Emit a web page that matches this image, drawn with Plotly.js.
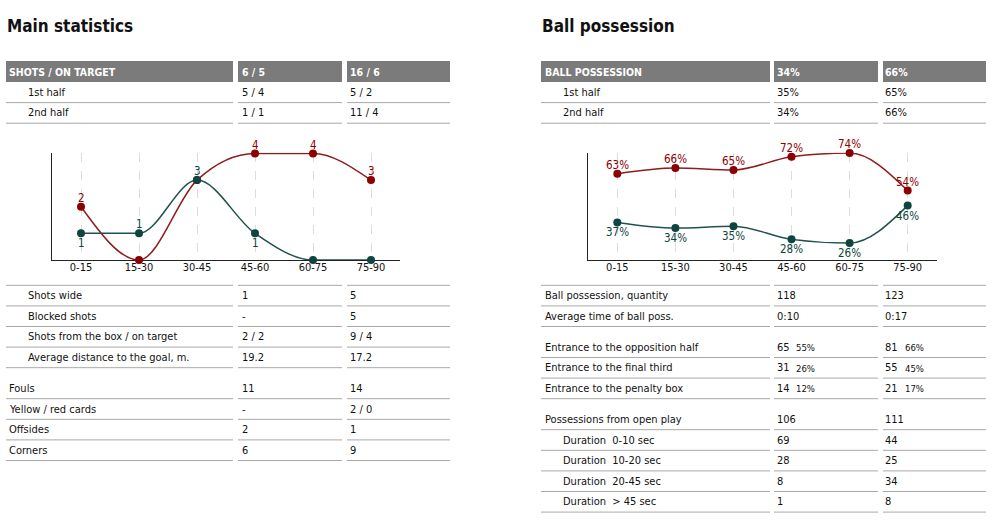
<!DOCTYPE html>
<html><head><meta charset="utf-8">
<script src="https://cdn.plot.ly/plotly-3.0.1.min.js"></script>
<style>html,body{margin:0;padding:0;background:#fff;}#chart{width:1003px;height:522px;}</style>
</head><body><div id="chart"></div>
<script>
// ---- data ----
const categories = ['0-15', '15-30', '30-45', '45-60', '60-75', '75-90'];
const shotsGreen = [1, 1, 3, 1, 0, 0];
const shotsRed = [2, 0, 3, 4, 4, 3];
const possGreen = [37, 34, 35, 28, 26, 46];
const possRed = [63, 66, 65, 72, 74, 54];

const shotsHeader = ['SHOTS / ON TARGET', '6 / 5', '16 / 6'];
const shotsHalves = [['1st half', '5 / 4', '5 / 2'], ['2nd half', '1 / 1', '11 / 4']];
const shotDetails = [['Shots wide', '1', '5'], ['Blocked shots', '-', '5'],
  ['Shots from the box / on target', '2 / 2', '9 / 4'], ['Average distance to the goal, m.', '19.2', '17.2']];
const discipline = [['Fouls', '11', '14'], ['Yellow / red cards', '-', '2 / 0'], ['Offsides', '2', '1'], ['Corners', '6', '9']];

const possHeader = ['BALL POSSESSION', '34%', '66%'];
const possHalves = [['1st half', '35%', '65%'], ['2nd half', '34%', '66%']];
const possCounts = [['Ball possession, quantity', '118', '123'], ['Average time of ball poss.', '0:10', '0:17']];
const entrances = [['Entrance to the opposition half', '65', '81'], ['Entrance to the final third', '31', '55'], ['Entrance to the penalty box', '14', '21']];
const entranceShares = [['55%', '66%'], ['26%', '45%'], ['12%', '17%']];
const openPlay = [['Possessions from open play', '106', '111'], ['Duration  0-10 sec', '69', '44'],
  ['Duration  10-20 sec', '28', '25'], ['Duration  20-45 sec', '8', '34'], ['Duration  > 45 sec', '1', '8']];

// ---- helpers ----
const W = 1003, H = 522;
const px = x => x / W, py = y => 1 - y / H;
const FONT = '"DejaVu Sans Condensed","Liberation Sans Narrow",Roboto,sans-serif';
const annotations = [], shapes = [];
const RED = '#8b0000', GREEN = '#0e4540';
const BODY = 11;

function txt(x, y, t, size, color, anchor) {
  annotations.push({xref: 'paper', yref: 'paper', x: px(x), y: py(y), xanchor: anchor || 'left', yanchor: 'middle',
    text: t, showarrow: false, borderpad: 0, font: {family: FONT, size: size || BODY, color: color || '#111'}});
}
function hline(x0, x1, y, color) {
  shapes.push({type: 'line', xref: 'paper', yref: 'paper', x0: px(x0), x1: px(x1), y0: py(y), y1: py(y),
    line: {color: color || '#a8a8a8', width: 1}});
}
function rect(x0, x1, y0, y1, color) {
  shapes.push({type: 'rect', xref: 'paper', yref: 'paper', x0: px(x0), x1: px(x1), y0: py(y0), y1: py(y1),
    fillcolor: color, line: {width: 0}});
}

const ROW = 20.6, GAP = 10.4;
function drawTable(cols, xs, header, groups) {
  cols.forEach(c => rect(c[0], c[1], 61, 82, '#7b7b7b'));
  header.forEach((h, i) => txt(i === 0 ? xs.label : xs.vals[i - 1], 72, '<b>' + h + '</b>', 10.5, '#fff'));
  let y = 82;
  groups.forEach(g => {
    if (g.start !== undefined) { y = g.start; }
    if (g.topLine) cols.forEach(c => hline(c[0], c[1], y));
    g.rows.forEach((r, ri) => {
      const yc = y + ROW / 2;
      const indent = g.indent && (!g.indentFrom || ri >= g.indentFrom);
      txt(indent ? xs.indent : xs.label, yc, r[0]);
      txt(xs.vals[0], yc, r[1]);
      txt(xs.vals[1], yc, r[2]);
      if (g.shares) {
        txt(xs.vals[0] + 19, yc + 0.5, g.shares[ri][0], 9.5);
        txt(xs.vals[1] + 20, yc + 0.5, g.shares[ri][1], 9.5);
      }
      y += ROW;
      cols.forEach(c => hline(c[0], c[1], y));
    });
    y += GAP;
  });
}

drawTable([[6, 233], [238, 342], [347, 450]], {label: 8, indent: 27, vals: [241, 349]}, shotsHeader, [
  {rows: shotsHalves, indent: true},
  {rows: shotDetails, indent: true, start: 285.3, topLine: true},
  {rows: discipline, indent: false}
]);
drawTable([[541, 770], [774, 878], [883, 986]], {label: 544, indent: 562, vals: [776, 884]}, possHeader, [
  {rows: possHalves, indent: true},
  {rows: possCounts, indent: false, start: 285.3, topLine: true},
  {rows: entrances, indent: false, shares: entranceShares},
  {rows: openPlay, indent: true, indentFrom: 1}
]);

txt(6, 26, '<b>Main statistics</b>', 17, '#111');
txt(541, 26, '<b>Ball possession</b>', 17, '#111');

// ---- monotone curve (d3 curveMonotoneX) as a path in data coordinates ----
function monotonePath(ys) {
  const n = ys.length, xs = ys.map((_, i) => i);
  const s = [];
  for (let i = 0; i < n - 1; i++) s.push((ys[i + 1] - ys[i]) / (xs[i + 1] - xs[i]));
  const t = new Array(n);
  const sign = v => v < 0 ? -1 : (v > 0 ? 1 : 0);
  for (let i = 1; i < n - 1; i++) {
    const s0 = s[i - 1], s1 = s[i], p = (s0 + s1) / 2;
    t[i] = (sign(s0) + sign(s1)) * Math.min(Math.abs(s0), Math.abs(s1), 0.5 * Math.abs(p)) || 0;
  }
  t[0] = (3 * s[0] - t[1]) / 2;
  t[n - 1] = (3 * s[n - 2] - t[n - 2]) / 2;
  let d = 'M' + xs[0] + ',' + ys[0];
  for (let i = 0; i < n - 1; i++) {
    const h = (xs[i + 1] - xs[i]) / 3;
    d += ' C' + (xs[i] + h) + ',' + (ys[i] + h * t[i]) + ' ' + (xs[i + 1] - h) + ',' + (ys[i + 1] - h * t[i + 1]) + ' ' + xs[i + 1] + ',' + ys[i + 1];
  }
  return d;
}
function curve(ys, xref, yref, color) {
  shapes.push({type: 'path', xref: xref, yref: yref, path: monotonePath(ys), layer: 'between',
    line: {color: color, width: 1.5}});
}
curve(shotsRed, 'x', 'y', '#8e1d1d');
curve(shotsGreen, 'x', 'y', '#1f524d');
curve(possRed, 'x2', 'y2', '#8e1d1d');
curve(possGreen, 'x2', 'y2', '#1f524d');

// point labels (data coordinates)
function pointLabels(ys, labels, above, xref, yref, color) {
  ys.forEach((v, i) => {
    if (!labels[i]) return;
    annotations.push({xref: xref, yref: yref, x: i, y: v, text: labels[i], showarrow: false,
      xanchor: 'center', yanchor: 'middle', yshift: above[i] ? 9 : -10, borderpad: 0,
      font: {family: FONT, size: 11.5, color: color}});
  });
}
pointLabels(shotsRed, shotsRed.map((v, i) => (v === 0 || v === shotsGreen[i]) ? '' : String(v)),
  shotsRed.map(() => true), 'x', 'y', RED);
pointLabels(shotsGreen, shotsGreen.map(v => v === 0 ? '' : String(v)),
  shotsGreen.map((v, i) => v >= shotsRed[i]), 'x', 'y', GREEN);
pointLabels(possRed, possRed.map(v => v + '%'), possRed.map(() => true), 'x2', 'y2', RED);
pointLabels(possGreen, possGreen.map(v => v + '%'), possGreen.map(() => false), 'x2', 'y2', GREEN);

const idx = categories.map((_, i) => i);
function pts(ys, xa, ya, color) {
  return {type: 'scatter', mode: 'markers', x: idx, y: ys, xaxis: xa, yaxis: ya, cliponaxis: false,
    marker: {color: color, size: 8}, hoverinfo: 'skip', showlegend: false};
}
const traces = [
  pts(shotsRed, 'x', 'y', RED),
  pts(shotsGreen, 'x', 'y', GREEN),
  pts(possRed, 'x2', 'y2', RED),
  pts(possGreen, 'x2', 'y2', GREEN)
];

const yDom = [py(260), py(152.7)];
function xAxis(domain) {
  return {domain: domain, range: [-0.5, 5.5], tickvals: idx, ticktext: categories, showline: true, linecolor: '#222',
    linewidth: 1, ticks: '', showgrid: true, gridcolor: '#dddddd', griddash: 'dash', gridwidth: 1, zeroline: false,
    fixedrange: true, layer: 'below traces', ticklabelstandoff: -3,
    tickfont: {family: FONT, size: 11, color: '#111'}};
}
function yAxis(domain, range, anchor) {
  return {domain: domain, range: range, showline: true, linecolor: '#222', linewidth: 1, ticks: '', showticklabels: false,
    showgrid: false, zeroline: false, fixedrange: true, layer: 'below traces', anchor: anchor};
}
const layout = {
  width: W, height: H, margin: {l: 0, r: 0, t: 0, b: 0}, paper_bgcolor: '#fff', plot_bgcolor: 'rgba(0,0,0,0)',
  showlegend: false,
  xaxis: Object.assign(xAxis([px(52), px(400)]), {anchor: 'y'}),
  yaxis: yAxis(yDom, [0, 4.03], 'x'),
  xaxis2: Object.assign(xAxis([px(588.3), px(936.7)]), {anchor: 'y2'}),
  yaxis2: yAxis(yDom, [17, 74.2], 'x2'),
  annotations: annotations, shapes: shapes
};
Plotly.newPlot('chart', traces, layout, {staticPlot: true, displayModeBar: false});
</script></body></html>
